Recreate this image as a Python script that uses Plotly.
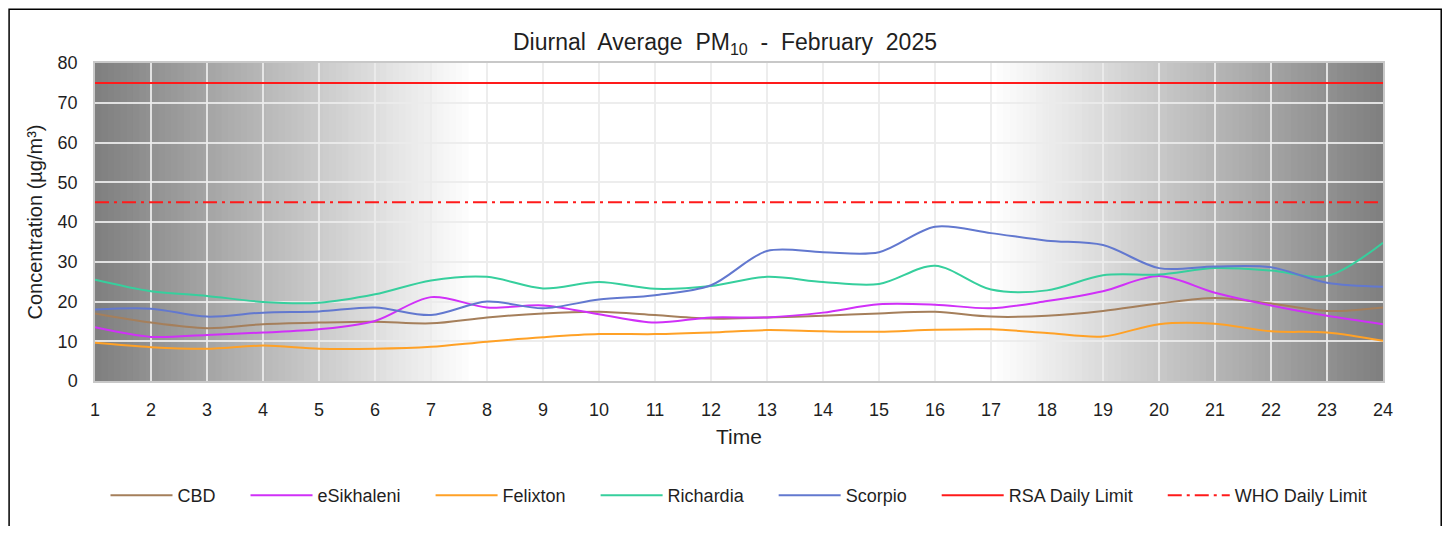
import plotly.graph_objects as go

# hourly diurnal averages, PM10 (ug/m3)
hours = list(range(1, 25))
cbd = [17.0, 14.7, 13.3, 14.3, 14.7, 14.9, 14.5, 16.0, 17.0, 17.4, 16.6, 15.7,
       16.0, 16.4, 17.0, 17.4, 16.2, 16.4, 17.6, 19.5, 20.9, 19.5, 17.6, 18.5]
esikhaleni = [13.5, 11.1, 11.6, 12.2, 13.0, 15.1, 21.1, 18.5, 19.0, 16.8, 14.7, 16.0,
              16.0, 17.2, 19.3, 19.2, 18.3, 20.1, 22.6, 26.4, 22.2, 19.0, 16.4, 14.3]
felixton = [9.6, 8.5, 8.1, 8.9, 8.1, 8.1, 8.6, 9.9, 11.0, 11.8, 11.8, 12.2,
            12.8, 12.5, 12.4, 12.9, 13.0, 12.1, 11.2, 14.3, 14.4, 12.5, 12.2, 10.1]
richardia = [25.5, 22.6, 21.4, 19.9, 19.7, 21.8, 25.3, 26.2, 23.3, 24.9, 23.2, 23.9,
             26.2, 24.9, 24.4, 29.0, 23.0, 22.8, 26.6, 26.8, 28.4, 27.8, 26.4, 34.8]
scorpio = [18.0, 18.2, 16.2, 17.2, 17.5, 18.5, 16.6, 20.0, 18.3, 20.5, 21.6, 24.1,
           32.7, 32.4, 32.4, 38.8, 37.2, 35.3, 34.2, 28.4, 28.8, 28.6, 24.7, 23.7]
rsa_limit = 75
who_limit = 45

FONT = "Liberation Sans, Arial, sans-serif"
TXT = "#1f1f1f"
PAD = "\u00a0" * 5  # extra room between legend entries

stations = [
    ("CBD", cbd, "#a57f5b"),
    ("eSikhaleni", esikhaleni, "#d030f8"),
    ("Felixton", felixton, "#ffa126"),
    ("Richardia", richardia, "#36cf9d"),
    ("Scorpio", scorpio, "#6278cf"),
]

fig = go.Figure()
for name, vals, col in stations:
    fig.add_trace(go.Scatter(x=hours, y=vals, name=name + PAD, mode="lines",
                             line=dict(color=col, width=2, shape="spline", smoothing=0.9)))

fig.add_trace(go.Scatter(x=hours, y=[rsa_limit] * len(hours), name="RSA Daily Limit" + PAD,
                         mode="lines", line=dict(color="#ff1a1a", width=2)))
fig.add_trace(go.Scatter(x=hours, y=[who_limit] * len(hours), name="WHO Daily Limit",
                         mode="lines", line=dict(color="#ff1a1a", width=2, dash="14px,5px,3px,5px")))

# grey -> white -> grey background (night / day shading)
shapes = []
steps = 60
left_end, right_start = 0.295, 0.695
for i in range(steps):
    g = int(128 + 127 * i / (steps - 1))
    w = left_end / steps
    shapes.append(dict(type="rect", xref="x domain", yref="y domain", layer="below",
                       x0=i * w, x1=(i + 1) * w + 0.001, y0=0, y1=1,
                       fillcolor=f"rgb({g},{g},{g})", line=dict(width=0)))
    w2 = (1 - right_start) / steps
    g2 = int(255 - 127 * i / (steps - 1))
    shapes.append(dict(type="rect", xref="x domain", yref="y domain", layer="below",
                       x0=right_start + i * w2, x1=right_start + (i + 1) * w2 + 0.001, y0=0, y1=1,
                       fillcolor=f"rgb({g2},{g2},{g2})", line=dict(width=0)))

# outer frame of the chart
shapes.append(dict(type="rect", xref="paper", yref="paper", x0=-0.0667, x1=1.0452,
                   y0=-0.6, y1=1.169, line=dict(color="black", width=1.5)))

fig.update_layout(
    width=1434, height=518,
    margin=dict(l=87, r=59, t=55, b=142),
    paper_bgcolor="white", plot_bgcolor="white",
    font=dict(family=FONT, color=TXT, size=18),
    title=dict(text="Diurnal  Average  PM<sub>10</sub>  -  February  2025",
               x=0.5, xanchor="center", y=0.935, yanchor="middle",
               font=dict(size=23, color=TXT, family=FONT)),
    shapes=shapes,
    showlegend=True,
    legend=dict(orientation="h", x=0.5, xanchor="center", y=-0.36, yanchor="middle",
                font=dict(size=18, color=TXT, family=FONT),
                itemwidth=62, tracegroupgap=0,
                bgcolor="rgba(0,0,0,0)"),
)

fig.update_xaxes(range=[1, 24], tickmode="linear", tick0=1, dtick=1,
                 showgrid=True, gridcolor="rgba(235,235,235,0.9)", gridwidth=1.5,
                 zeroline=False, showline=True, linecolor="#c8c8c8", linewidth=1.5, mirror=True,
                 ticks="", ticklabelstandoff=12,
                 tickfont=dict(size=18, color=TXT, family=FONT),
                 title=dict(text="Time", standoff=10, font=dict(size=21, color=TXT, family=FONT)))
fig.update_yaxes(range=[0, 80], tickmode="linear", tick0=0, dtick=10,
                 showgrid=True, gridcolor="rgba(235,235,235,0.9)", gridwidth=1.5,
                 zeroline=False, showline=True, linecolor="#c8c8c8", linewidth=1.5, mirror=True,
                 ticks="", ticklabelstandoff=12,
                 tickfont=dict(size=18, color=TXT, family=FONT),
                 title=dict(text="Concentration (µg/m³)", standoff=10,
                            font=dict(size=20, color=TXT, family=FONT)))

fig.write_html("out.html")
